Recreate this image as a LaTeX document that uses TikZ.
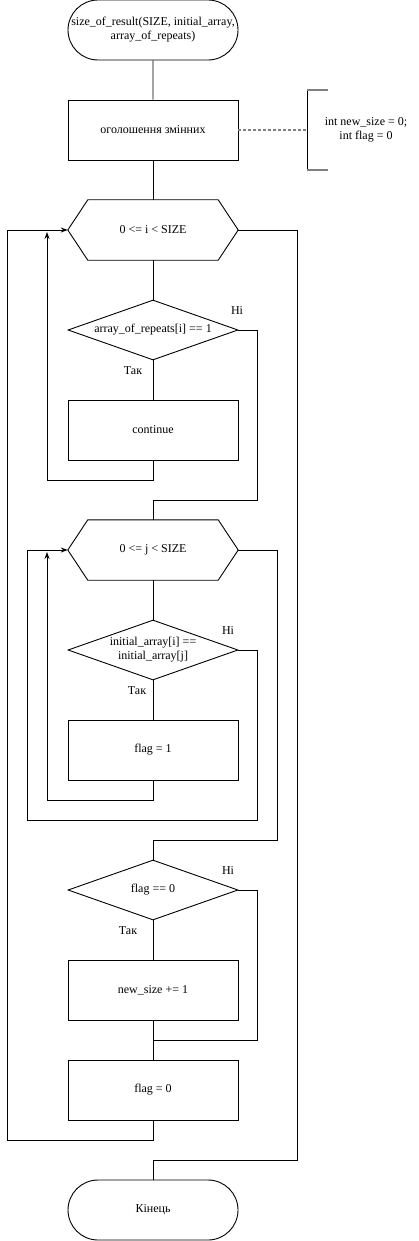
\documentclass[tikz,border=0pt]{standalone}
\usepackage{fontspec}
\setmainfont{Liberation Serif}
\usetikzlibrary{arrows.meta,shapes.geometric,shapes.misc}
\begin{document}
\begin{tikzpicture}[x=1pt,y=-1pt,
  every node/.style={font=\fontsize{12}{14}\selectfont},
  ln/.style={line width=0.9pt},
  box/.style={draw,line width=0.9pt,minimum width=170pt,minimum height=60pt,inner sep=0pt,align=center},
  term/.style={draw,line width=0.9pt,rounded rectangle,minimum width=170pt,minimum height=60pt,inner sep=0pt,align=center},
  hexa/.style={minimum width=170pt,minimum height=60pt,inner sep=0pt,align=center},
  dia/.style={draw,line width=0.9pt,diamond,aspect=2.833,minimum width=170pt,minimum height=60pt,inner sep=0pt,align=center},
  lbl/.style={inner sep=0pt},
  arr/.style={line width=0.9pt,-{Stealth[length=7pt,width=5pt]}}
]
\useasboundingbox (0,0) rectangle (418,1241);
% nodes
\node[term] (start) at (153,30) {size\_of\_result(SIZE, initial\_array,\\array\_of\_repeats)};
\node[box] (decl) at (153,130) {оголошення змінних};
\node[hexa] (h1) at (153,230) {0 <= i < SIZE};
\draw[ln] (h1.west) -- ([xshift=20pt]h1.north west) -- ([xshift=-20pt]h1.north east) -- (h1.east) -- ([xshift=-20pt]h1.south east) -- ([xshift=20pt]h1.south west) -- cycle;
\node[dia] (d1) at (153,330) {array\_of\_repeats[i] == 1};
\node[box] (cont) at (153,430) {continue};
\node[hexa] (h2) at (153,550) {0 <= j < SIZE};
\draw[ln] (h2.west) -- ([xshift=20pt]h2.north west) -- ([xshift=-20pt]h2.north east) -- (h2.east) -- ([xshift=-20pt]h2.south east) -- ([xshift=20pt]h2.south west) -- cycle;
\node[dia] (d2) at (153,650) {initial\_array[i] ==\\initial\_array[j]};
\node[box] (f1) at (153,750) {flag = 1};
\node[dia] (d3) at (153,890) {flag == 0};
\node[box] (ns) at (153,990) {new\_size += 1};
\node[box] (f0) at (153,1090) {flag = 0};
\node[term] (end) at (153,1210) {Кінець};
% annotation
\coordinate (bt) at (307,90);
\coordinate (bb) at (307,170);
\coordinate (bm) at (307,130);
\draw[ln] (bt) -- (bb);
\draw[line width=1.2pt,gray] (bt) -- ++(21,0);
\draw[line width=1.2pt,gray] (bb) -- ++(21,0);
\draw[line width=1.2pt,gray,dash pattern=on 3pt off 2pt] (decl.east) -- (bm);
\node[align=center] (ann) at (366,130) {int new\_size = 0;\\int flag = 0};
% labels
\node[lbl] (n1) at (237,311) {Ні};
\node[lbl] (t1) at (133,371) {Так};
\node[lbl] (n2) at (228,631) {Ні};
\node[lbl] (t2) at (137,691) {Так};
\node[lbl] (n3) at (228,871) {Ні};
\node[lbl] (t3) at (128,931) {Так};
% main flow
\draw[ln] (start) -- (decl);
\draw[ln] (decl) -- (h1);
\draw[ln] (h1) -- (d1);
\draw[ln] (d1) -- (cont);
\draw[arr] (cont.south) |- (47,480) -- (47,232);
\draw[ln] (d1.east) -| (257,500) -| (h2.north);
\draw[ln] (h2) -- (d2);
\draw[ln] (d2) -- (f1);
\draw[arr] (f1.south) |- (47,800) -- (47,552);
\draw[arr] (d2.east) -| (257,820) -| (27,550) -- (h2.west);
\draw[ln] (h2.east) -| (277,840) -| (d3.north);
\draw[ln] (d3) -- (ns);
\draw[ln] (ns) -- (f0);
\draw[ln] (d3.east) -| (257,1040) -- (153,1040);
\draw[arr] (f0.south) |- (7,1140) |- (h1.west);
\draw[ln] (h1.east) -| (297,1160) -| (end.north);
\end{tikzpicture}
\end{document}
